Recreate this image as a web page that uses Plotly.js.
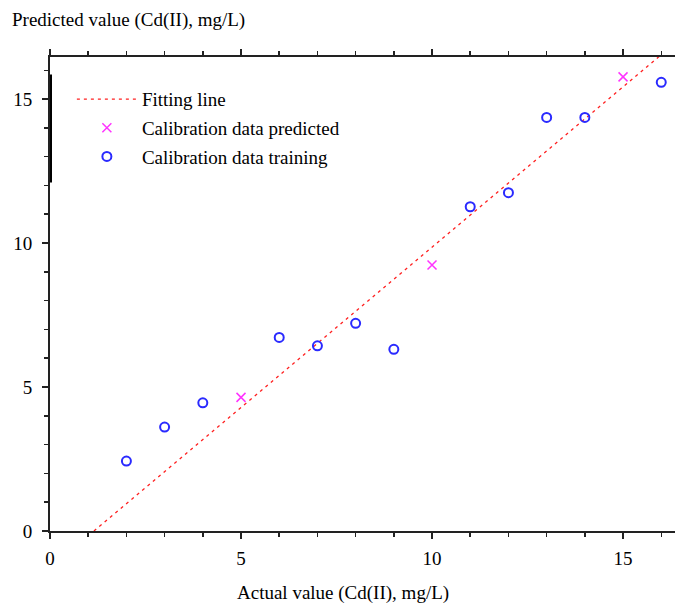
<!DOCTYPE html>
<html>
<head>
<meta charset="utf-8">
<script src="https://cdn.plot.ly/plotly-3.0.1.min.js"></script>
<style>html,body{margin:0;padding:0;background:#fff;}#chart{width:675px;height:608px;}</style>
</head>
<body>
<div id="chart"></div>
<script>
// Fitting line endpoints (actual vs predicted)
const fitX = [1.15, 16.0];
const fitY = [0.0, 16.54];

// Calibration data predicted (magenta x)
const predX = [5, 10, 15];
const predY = [4.64, 9.24, 15.77];

// Calibration data training (blue circles)
const trainX = [2, 3, 4, 6, 7, 8, 9, 11, 12, 13, 14, 16];
const trainY = [2.43, 3.61, 4.45, 6.72, 6.43, 7.21, 6.31, 11.26, 11.75, 14.36, 14.36, 15.58];

const tickVals = [0, 5, 10, 15];
const tickText = ['0', '5', '10', '15'];

const FONT = 'Liberation Serif, Times New Roman, serif';
const FS = 19;

const traces = [
  {
    x: fitX, y: fitY, type: 'scatter', mode: 'lines', name: 'Fitting line', legendgroup: 'a',
    line: {color: '#ff2020', width: 1.3, dash: '3px,4px'}
  },
  {
    x: predX, y: predY, type: 'scatter', mode: 'markers', name: 'Calibration data predicted', legendgroup: 'b',
    marker: {symbol: 'x-thin-open', size: 9, color: '#ff33ff', line: {color: '#ff33ff', width: 1.5}}
  },
  {
    x: trainX, y: trainY, type: 'scatter', mode: 'markers', name: 'Calibration data training', legendgroup: 'c',
    marker: {symbol: 'circle-open', size: 9, color: '#2a2aff', line: {color: '#2a2aff', width: 2}}
  }
];

const layout = {
  width: 675, height: 608,
  margin: {l: 50, r: 0, t: 57, b: 77},
  paper_bgcolor: '#fff', plot_bgcolor: '#fff',
  font: {family: FONT, size: FS, color: '#000'},
  showlegend: true,
  legend: {
    x: 0.035, y: 0.951, xanchor: 'left', yanchor: 'top',
    bgcolor: 'rgba(0,0,0,0)', borderwidth: 0,
    font: {family: FONT, size: FS, color: '#000'},
    itemwidth: 60, tracegroupgap: 1
  },
  title: {
    text: 'Predicted value (Cd(II), mg/L)',
    x: 12 / 675, xanchor: 'left', xref: 'container',
    y: 1 - 19 / 608, yanchor: 'middle', yref: 'container',
    font: {family: FONT, size: FS, color: '#000'}
  },
  xaxis: {
    range: [0, 16.36], autorange: false,
    tickvals: tickVals, ticktext: tickText,
    ticks: 'outside', ticklen: 6, tickwidth: 1.5, tickcolor: '#222',
    minor: {dtick: 1, tick0: 0, ticks: 'outside', ticklen: 4, tickwidth: 1.5, tickcolor: '#222'},
    showline: true, linecolor: '#222', linewidth: 2, mirror: 'ticks',
    showgrid: false, zeroline: false,
    ticklabelstandoff: 3,
    tickfont: {family: FONT, size: FS, color: '#000'}
  },
  yaxis: {
    range: [0, 16.46], autorange: false,
    tickvals: tickVals, ticktext: tickText,
    ticks: 'outside', ticklen: 6, tickwidth: 1.5, tickcolor: '#222',
    minor: {dtick: 1, tick0: 0, ticks: 'outside', ticklen: 4, tickwidth: 1.5, tickcolor: '#222'},
    showline: true, linecolor: '#222', linewidth: 2,
    showgrid: false, zeroline: false,
    ticklabelstandoff: 6,
    tickfont: {family: FONT, size: FS, color: '#000'}
  },
  annotations: [
    {
      text: 'Actual value (Cd(II), mg/L)', xref: 'paper', yref: 'paper',
      x: 0.469, y: -0.13, xanchor: 'center', yanchor: 'middle', showarrow: false,
      font: {family: FONT, size: FS, color: '#000'}
    }
  ],
  shapes: [
    {type: 'line', xref: 'x', yref: 'y', x0: 0, x1: 0, y0: 12.1, y1: 15.85,
     line: {color: '#000', width: 4}}
  ]
};

Plotly.newPlot('chart', traces, layout, {displayModeBar: false, staticPlot: true});
</script>
</body>
</html>
